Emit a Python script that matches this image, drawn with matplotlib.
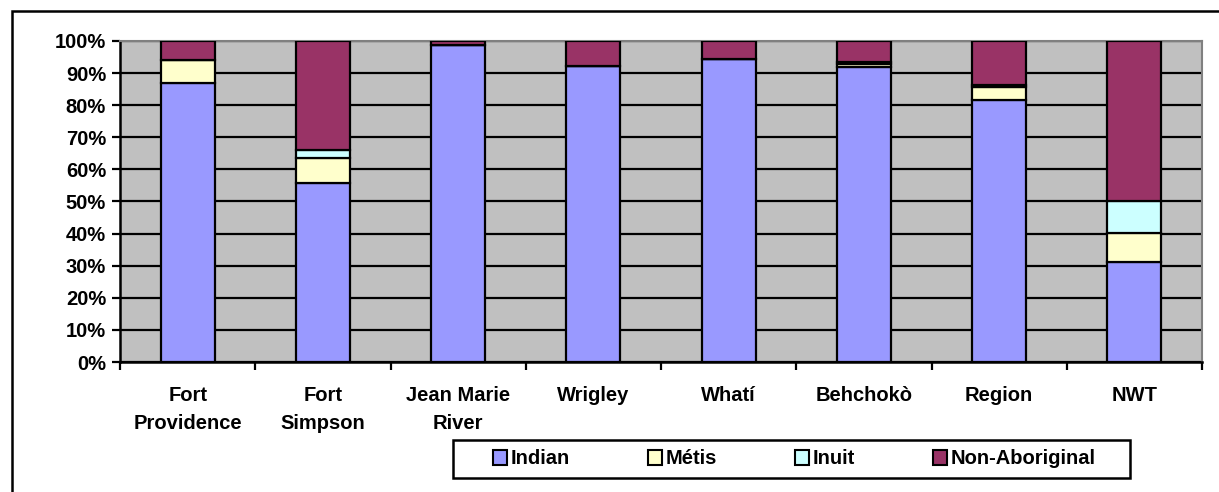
import numpy as np
import matplotlib
matplotlib.use('Agg')
import matplotlib.pyplot as plt
from matplotlib.patches import Rectangle

plt.rcParams['font.family'] = ['Liberation Sans', 'DejaVu Sans']
plt.rcParams['font.weight'] = 'bold'

# dados (percentagens)
comunidades = ['Fort\nProvidence', 'Fort\nSimpson', 'Jean Marie\nRiver', 'Wrigley',
               'Whatí', 'Behchokò', 'Region', 'NWT']
indian = [87.0, 55.7, 98.8, 92.3, 94.4, 91.8, 81.6, 31.2]
metis = [7.2, 7.8, 0.0, 0.0, 0.0, 1.1, 4.2, 8.9]
inuit = [0.0, 2.5, 0.0, 0.0, 0.0, 0.6, 0.6, 10.2]
non_aboriginal = [5.8, 34.0, 1.2, 7.7, 5.6, 6.5, 13.6, 49.7]

series = [('Indian', indian, '#9999FF'),
          ('Métis', metis, '#FFFFCC'),
          ('Inuit', inuit, '#CCFFFF'),
          ('Non-Aboriginal', non_aboriginal, '#993366')]

FS = 14.5

fig = plt.figure(figsize=(12.19, 4.92), dpi=100)
ax = fig.add_axes([120 / 1219, 130 / 492, 1082 / 1219, 321 / 492])
ax.set_facecolor('#C0C0C0')

x = np.arange(len(comunidades))
base = np.zeros(len(comunidades))
for nome, vals, cor in series:
    vals = np.array(vals)
    ax.bar(x, vals, width=0.4, bottom=base, color=cor, edgecolor='black',
           linewidth=1.6, label=nome, zorder=3)
    base += vals

ax.set_xlim(-0.5, len(comunidades) - 0.5)
ax.set_ylim(0, 100)
ax.set_yticks(np.arange(0, 101, 10))
ax.set_yticklabels([f'{v}%' for v in range(0, 101, 10)], fontsize=FS, fontweight='bold')
ax.yaxis.grid(True, color='black', linewidth=1.6, zorder=1)
ax.set_axisbelow(True)

# ticks entre categorias, rótulos no centro
ax.set_xticks(np.arange(-0.5, len(comunidades), 1.0))
ax.set_xticklabels([])
ax.set_xticks(x, minor=True)
ax.set_xticklabels(comunidades, minor=True, fontsize=FS, fontweight='bold', linespacing=1.6)
ax.tick_params(axis='x', which='minor', length=0, pad=17)
ax.tick_params(axis='x', which='major', direction='out', length=6, width=1.6)
ax.tick_params(axis='y', direction='out', length=6, width=1.6, pad=4)

for lado in ['left', 'bottom']:
    ax.spines[lado].set_linewidth(1.8)
    ax.spines[lado].set_color('black')
for lado in ['top', 'right']:
    ax.spines[lado].set_linewidth(1.5)
    ax.spines[lado].set_color('#808080')

# legenda sem moldura; moldura desenhada à parte
leg = fig.legend(loc='center left', bbox_to_anchor=(493 / 1219, 1 - 459 / 492), ncol=4,
                 frameon=False, borderpad=0, borderaxespad=0,
                 handlelength=0.7, handleheight=0.7, handletextpad=0.2,
                 columnspacing=3.85, prop={'weight': 'bold', 'size': FS})
for h in leg.legend_handles:
    h.set_linewidth(1.5)

fig.patches.append(Rectangle((453 / 1219, 1 - 478 / 492), 677 / 1219, 38 / 492,
                             transform=fig.transFigure, fill=False,
                             edgecolor='black', linewidth=1.8))

# moldura externa do gráfico
fig.patches.append(Rectangle((12 / 1219, -0.05), 1.1, 1 - 11 / 492 + 0.05,
                             transform=fig.transFigure, fill=False,
                             edgecolor='black', linewidth=1.8))

fig.savefig('out.png', dpi=100)
